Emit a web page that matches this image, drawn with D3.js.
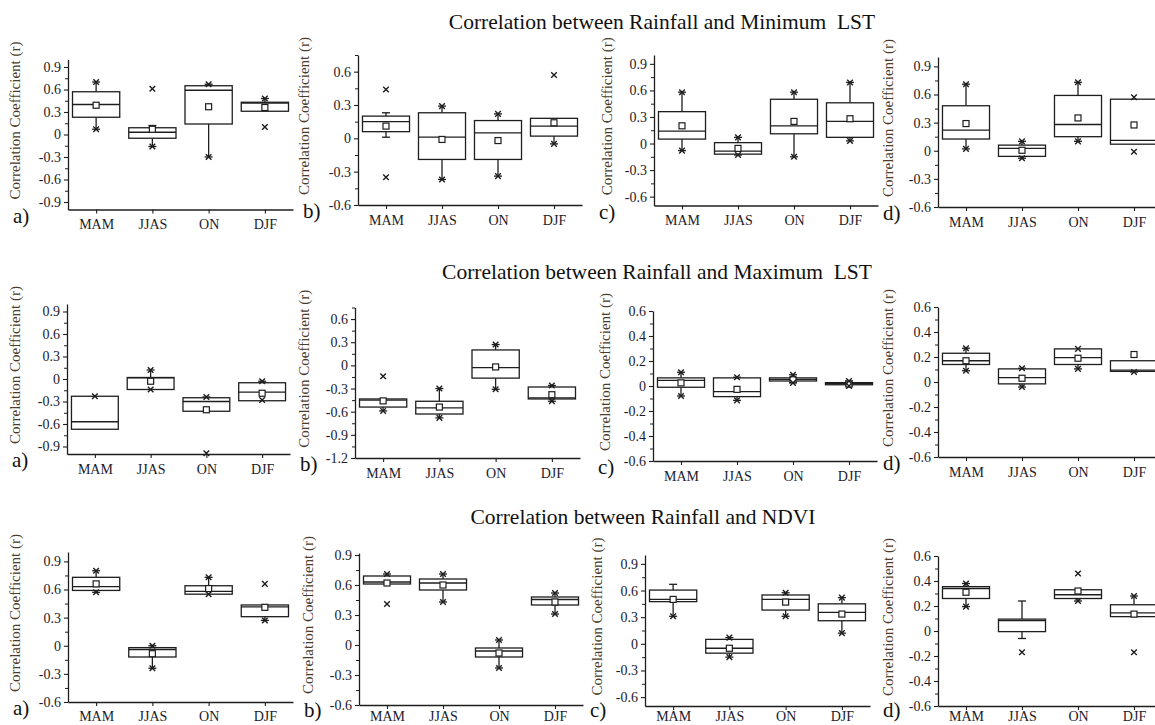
<!DOCTYPE html>
<html><head><meta charset="utf-8">
<script src="https://cdn.jsdelivr.net/npm/d3@7"></script>
<style>body{margin:0;background:#fff} svg{display:block} text{white-space:pre}</style>
</head><body>
<svg id="c" width="1155" height="725"></svg>
<script>
// ---------- data ----------
const seasons = ["MAM", "JJAS", "ON", "DJF"];
const rowTitles = [
  "Correlation between Rainfall and Minimum  LST",
  "Correlation between Rainfall and Maximum  LST",
  "Correlation between Rainfall and NDVI"
];
const panelLetters = ["a)", "b)", "c)", "d)"];
const yLabel = "Correlation Coefficient (r)";

// y-axis ranges per panel (row-major: row1 a-d, row2 a-d, row3 a-d)
const yDomains = [[-1, 1], [-0.6, 0.75], [-0.7, 1], [-0.6, 1],
                  [-1, 1], [-1.2, 0.75], [-0.6, 0.6], [-0.6, 0.6],
                  [-0.6, 1], [-0.6, 0.92], [-0.7, 1], [-0.6, 0.6]];
const ticksA = [-0.9, -0.6, -0.3, 0, 0.3, 0.6, 0.9];
const ticksB = [-0.6, -0.3, 0, 0.3, 0.6];
const ticksC = [-0.6, -0.3, 0, 0.3, 0.6, 0.9];
const ticksD = [-1.2, -0.9, -0.6, -0.3, 0, 0.3, 0.6];
const ticksE = [-0.6, -0.4, -0.2, 0, 0.2, 0.4, 0.6];
const yTicks = [ticksA, ticksB, ticksC, ticksC,
                ticksA, ticksD, ticksE, ticksE,
                ticksC, ticksC, ticksC, ticksE];

// box statistics: each panel -> [MAM, JJAS, ON, DJF]
const q1 = [
  [0.23, -0.05, 0.14, 0.31], [0.06, -0.19, -0.19, 0.02], [0.05, -0.12, 0.11, 0.07], [0.125, -0.06, 0.15, 0.07],
  [-0.67, -0.14, -0.43, -0.29], [-0.54, -0.63, -0.165, -0.435], [-0.01, -0.085, 0.04, 0.01], [0.14, -0.015, 0.14, 0.085],
  [0.59, -0.12, 0.55, 0.31], [0.61, 0.55, -0.12, 0.40], [0.475, -0.105, 0.38, 0.26], [0.26, -0.005, 0.26, 0.115]
];
const median = [
  [0.40, 0.03, 0.59, 0.42], [0.15, 0.01, 0.05, 0.11], [0.14, -0.085, 0.20, 0.25], [0.22, 0.025, 0.28, 0.11],
  [-0.57, 0.015, -0.30, -0.175], [-0.45, -0.55, -0.03, -0.42], [0.045, -0.045, 0.053, 0.02], [0.17, 0.035, 0.195, 0.095],
  [0.63, -0.04, 0.58, 0.415], [0.63, 0.62, -0.06, 0.455], [0.50, -0.05, 0.50, 0.355], [0.34, 0.083, 0.29, 0.145]
];
const q3 = [
  [0.57, 0.09, 0.65, 0.43], [0.20, 0.23, 0.16, 0.18], [0.36, 0.01, 0.50, 0.46], [0.48, 0.06, 0.59, 0.55],
  [-0.23, 0.02, -0.25, -0.05], [-0.435, -0.465, 0.20, -0.28], [0.065, 0.065, 0.065, 0.027], [0.23, 0.105, 0.265, 0.17],
  [0.73, -0.02, 0.64, 0.435], [0.69, 0.66, -0.03, 0.48], [0.605, 0.05, 0.55, 0.45], [0.355, 0.095, 0.33, 0.21]
];
const mean = [
  [0.39, 0.07, 0.37, 0.36], [0.11, -0.01, -0.02, 0.14], [0.20, -0.055, 0.25, 0.28], [0.29, 0.005, 0.35, 0.275],
  [null, -0.03, -0.41, -0.19], [-0.46, -0.54, -0.02, -0.38], [0.025, -0.027, 0.05, 0.015], [0.17, 0.03, 0.19, 0.22],
  [0.66, -0.085, 0.61, 0.41], [0.62, 0.60, -0.08, 0.43], [0.50, -0.05, 0.47, 0.335], [0.31, null, 0.32, 0.135]
];
const whiskerLow = [
  [0.07, -0.16, -0.30, 0.31], [0.01, -0.37, -0.34, -0.05], [-0.08, -0.13, -0.15, 0.03], [0.02, -0.08, 0.10, 0.07],
  [-0.67, -0.14, -0.43, -0.28], [-0.59, -0.68, -0.31, -0.465], [-0.08, -0.115, 0.025, 0.0], [0.09, -0.04, 0.105, 0.08],
  [0.57, -0.24, 0.55, 0.27], [0.61, 0.43, -0.23, 0.31], [0.31, -0.15, 0.31, 0.12], [0.195, -0.06, 0.24, 0.115]
];
const whiskerHigh = [
  [0.70, 0.12, 0.67, 0.48], [0.23, 0.29, 0.22, 0.18], [0.58, 0.07, 0.58, 0.69], [0.71, 0.10, 0.73, 0.55],
  [-0.23, 0.12, -0.24, -0.03], [-0.435, -0.30, 0.27, -0.26], [0.11, 0.07, 0.09, 0.04], [0.27, 0.11, 0.265, 0.17],
  [0.80, 0.0, 0.73, 0.435], [0.71, 0.71, 0.05, 0.52], [0.67, 0.07, 0.575, 0.52], [0.38, 0.24, 0.33, 0.28]
];
const extremes = [
  [[0.70, 0.07], [0.61, -0.16], [0.67, -0.30], [0.48, 0.10]],
  [[0.44, -0.35], [0.29, -0.37], [0.22, -0.34], [0.57, -0.05]],
  [[0.58, -0.08], [0.07, -0.13], [0.58, -0.15], [0.69, 0.03]],
  [[0.71, 0.02], [0.10, -0.08], [0.73, 0.10], [0.57, -0.01]],
  [[-0.23], [0.12, -0.14], [-0.24, -0.99], [-0.03, -0.28]],
  [[-0.14, -0.59], [-0.30, -0.68], [0.27, -0.31], [-0.26, -0.465]],
  [[0.11, -0.08], [0.07, -0.115], [0.09, 0.025], [0.04, 0.0]],
  [[0.27, 0.09], [0.11, -0.04], [0.265, 0.105], [0.08]],
  [[0.80, 0.57], [0.0, -0.24], [0.73, 0.55], [0.66, 0.27]],
  [[0.71, 0.41], [0.71, 0.43], [0.05, -0.23], [0.52, 0.31]],
  [[0.31], [0.07, -0.15], [0.575, 0.31], [0.52, 0.12]],
  [[0.38, 0.195], [-0.17], [0.46, 0.24], [0.28, -0.17]]
];

// ---------- layout (pixels) ----------
const layout = [
  {x0: 68, x1: 293, top: 59.5, bottom: 209.5, labOff: 48},
  {x0: 358, x1: 582, top: 55, bottom: 205, labOff: 49},
  {x0: 654, x1: 878, top: 55, bottom: 205.5, labOff: 42},
  {x0: 938, x1: 1162, top: 57, bottom: 207, labOff: 45},
  {x0: 67, x1: 290, top: 304, bottom: 454, labOff: 47},
  {x0: 355, x1: 580, top: 307.5, bottom: 458, labOff: 46},
  {x0: 653, x1: 877, top: 311, bottom: 461, labOff: 43},
  {x0: 938, x1: 1162, top: 307, bottom: 457, labOff: 45},
  {x0: 68, x1: 293, top: 552, bottom: 702, labOff: 48},
  {x0: 359, x1: 583, top: 553, bottom: 705, labOff: 46},
  {x0: 645, x1: 870, top: 555, bottom: 706, labOff: 43},
  {x0: 938, x1: 1162, top: 556, bottom: 706, labOff: 45}
];
const titlePos = [{x: 662, y: 29}, {x: 657, y: 279}, {x: 643, y: 524}];

const svg = d3.select("#c");
const FONT = "'Liberation Serif', 'Times New Roman', serif";
const INK = "#1e1e1e";

svg.selectAll("text.title").data(rowTitles).join("text")
  .attr("class", "title")
  .attr("x", (d, i) => titlePos[i].x).attr("y", (d, i) => titlePos[i].y)
  .attr("text-anchor", "middle")
  .attr("font-family", FONT).attr("font-size", 21.5).attr("fill", "#111")
  .text(d => d);

const fmt = v => {
  const r = Math.round(v * 10) / 10;
  return r === 0 ? "0" : String(r);
};

layout.forEach((L, p) => {
  const g = svg.append("g");
  const x = d3.scalePoint().domain(seasons).range([L.x0, L.x1]).padding(0.5);
  const y = d3.scaleLinear().domain(yDomains[p]).range([L.bottom, L.top]);
  const ticks = yTicks[p];
  const step = ticks[1] - ticks[0];
  const minor = [];
  for (let i = 0; i < ticks.length + 1; i++) {
    const v = ticks[0] + (i - 0.5) * step;
    if (v >= yDomains[p][0] - 1e-9 && v <= yDomains[p][1] + 1e-9) minor.push(v);
  }

  // minor ticks
  g.append("g").attr("transform", `translate(${L.x0},0)`)
    .call(d3.axisLeft(y).tickValues(minor).tickSize(3).tickFormat("").tickSizeOuter(0))
    .call(a => a.select(".domain").remove())
    .call(a => a.selectAll("line").attr("stroke", INK).attr("stroke-width", 1));

  // y axis
  const ya = g.append("g").attr("transform", `translate(${L.x0},0)`)
    .call(d3.axisLeft(y).tickValues(ticks).tickFormat(fmt).tickSize(4).tickSizeOuter(0).tickPadding(3));
  ya.attr("font-family", FONT);
  ya.select(".domain").attr("stroke", INK).attr("stroke-width", 1.3);
  ya.selectAll("line").attr("stroke", INK).attr("stroke-width", 1.1);
  ya.selectAll("text").attr("font-family", FONT).attr("font-size", 14).attr("fill", "#1b1b2b");

  // x axis
  const xa = g.append("g").attr("transform", `translate(0,${L.bottom})`)
    .call(d3.axisBottom(x).tickSize(4).tickSizeOuter(0).tickPadding(6));
  xa.attr("font-family", FONT);
  xa.select(".domain").attr("stroke", INK).attr("stroke-width", 1.3);
  xa.selectAll("line").attr("stroke", INK).attr("stroke-width", 1.1);
  xa.selectAll("text").attr("font-family", FONT).attr("font-size", 14).attr("fill", "#1b1b2b")
    .attr("y", Math.min(10, 711 - L.bottom));

  // y label
  const cy = (L.top + L.bottom) / 2 - 14;
  g.append("text")
    .attr("transform", `translate(${L.x0 - L.labOff},${cy}) rotate(-90)`)
    .attr("text-anchor", "middle")
    .attr("font-family", FONT).attr("font-size", 15).attr("fill", "#4a3b2a")
    .text(yLabel);

  // panel letter
  g.append("text")
    .attr("x", L.x0 - 55).attr("y", Math.min(L.bottom + 13, 717))
    .attr("font-family", FONT).attr("font-size", 21).attr("fill", "#111")
    .text(panelLetters[p % 4]);

  // boxes
  const bw = x.step() * 0.84;
  seasons.forEach((s, i) => {
    const cx = x(s);
    const bg = g.append("g").attr("stroke", INK).attr("fill", "none").attr("stroke-width", 1.3);
    const lo = whiskerLow[p][i], hi = whiskerHigh[p][i];
    const b1 = q1[p][i], b3 = q3[p][i];
    if (hi > b3) {
      bg.append("line").attr("x1", cx).attr("x2", cx).attr("y1", y(b3)).attr("y2", y(hi));
      bg.append("line").attr("x1", cx - 4).attr("x2", cx + 4).attr("y1", y(hi)).attr("y2", y(hi));
    }
    if (lo < b1) {
      bg.append("line").attr("x1", cx).attr("x2", cx).attr("y1", y(b1)).attr("y2", y(lo));
      bg.append("line").attr("x1", cx - 4).attr("x2", cx + 4).attr("y1", y(lo)).attr("y2", y(lo));
    }
    bg.append("rect").attr("x", cx - bw / 2).attr("width", bw)
      .attr("y", y(b3)).attr("height", Math.max(0.5, y(b1) - y(b3)))
      .attr("fill", "#fff");
    bg.append("line").attr("x1", cx - bw / 2).attr("x2", cx + bw / 2)
      .attr("y1", y(median[p][i])).attr("y2", y(median[p][i]));
    const m = mean[p][i];
    if (m !== null) {
      bg.append("rect").attr("x", cx - 3).attr("y", y(m) - 3).attr("width", 6).attr("height", 6)
        .attr("fill", "#fff").attr("stroke-width", 1.2);
    }
    extremes[p][i].forEach(v => {
      const yy = y(v), r = 2.8;
      bg.append("path").attr("stroke-width", 1.4)
        .attr("d", `M${cx - r},${yy - r}L${cx + r},${yy + r}M${cx - r},${yy + r}L${cx + r},${yy - r}`);
    });
  });
});
</script>
</body></html>
